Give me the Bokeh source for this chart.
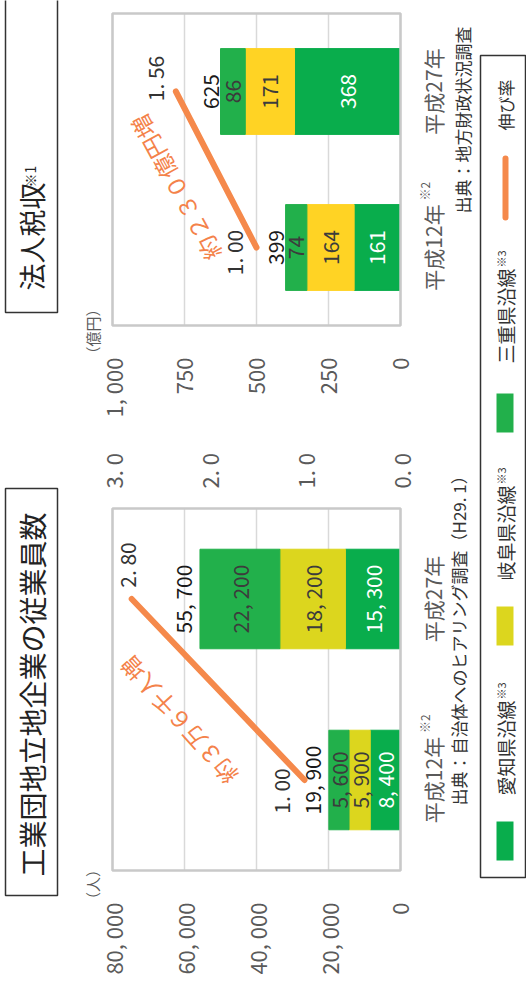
import math
from bokeh.plotting import figure
from bokeh.models import Range1d, ColumnDataSource, Label, BoxAnnotation
from bokeh.embed import file_html
from bokeh.resources import INLINE
from bokeh.core.properties import value

FONT = "Noto Sans CJK JP"
ORANGE = "#F5894B"
ORANGE_TXT = "#F4824A"
C_AICHI = "#09AD4C"
C_MIE = "#22B04B"
C_GIFU_EMP = "#DCD61E"
C_GIFU_TAX = "#FFD324"
TXT_DARK = "#3c3c3c"
AX_GREY = "#5a5a5a"

# ---------------- data ----------------
years = ["平成12年", "平成27年"]
year_notes = ["※2", ""]

emp_aichi = [8400, 15300]
emp_gifu = [5900, 18200]
emp_mie = [5600, 22200]
emp_total = [19900, 55700]
emp_growth = [1.00, 2.80]

tax_aichi = [161, 368]
tax_gifu = [164, 171]
tax_mie = [74, 86]
tax_total = [399, 625]
tax_growth = [1.00, 1.56]

emp_ticks = [0, 20000, 40000, 60000, 80000]
emp_tick_labels = ["0", "20, 000", "40, 000", "60, 000", "80, 000"]
tax_ticks = [0, 250, 500, 750, 1000]
tax_tick_labels = ["0", "250", "500", "750", "1, 000"]
growth_ticks = [0, 1, 2, 3]
growth_tick_labels = ["0. 0", "1. 0", "2. 0", "3. 0"]

series_names = ["愛知県沿線", "岐阜県沿線", "三重県沿線"]
series_note = "※3"
line_name = "伸び率"

emp_title = "工業団地立地企業の従業員数"
tax_title = "法人税収"
tax_title_note = "※1"
emp_source = "出典：自治体へのヒアリング調査（H29. 1）"
tax_source = "出典：地方財政状況調査"
emp_unit = "（人）"
tax_unit = "（億円）"
emp_note = "約３万６千人増"
tax_note = "約２３０億円増"


def fmt_int(v):
    return f"{v:,}".replace(",", ", ")


def fmt_g(v):
    return f"{v:.2f}".replace(".", ". ")


# ---------------- layout (page pixels) ----------------
W, H = 526, 989
X_ZERO, X_MAX = 400, 112          # page x of value 0 / axis maximum
PLOT_W = X_ZERO - X_MAX


def x_range_for(vmax):
    per_px = vmax / PLOT_W
    return Range1d(start=X_ZERO * per_px, end=(X_ZERO - W) * per_px)


def y_range_for(y_first, pitch):
    return Range1d(start=(y_first - H) / pitch, end=y_first / pitch)


p = figure(width=W, height=H, x_range=x_range_for(80000), y_range=y_range_for(779.5, 181),
           min_border=0, x_axis_location=None, y_axis_location=None,
           toolbar_location=None, output_backend="svg", outline_line_color=None,
           background_fill_color="white", border_fill_color="white")
p.grid.visible = False
p.extra_x_ranges = {"tax": x_range_for(1000), "ge": x_range_for(3.0), "gt": x_range_for(2.0)}
p.extra_y_ranges = {"tax": y_range_for(247, 156)}

ypos = list(range(len(years)))
y_lo, y_hi = ypos[0] - 0.5, ypos[-1] + 0.5
ROT = math.pi / 2


def txt(**kw):
    kw.setdefault("text_font", value(FONT))
    kw.setdefault("angle", ROT)
    return p.text(**kw)


def draw_chart(xr, yr, gr, aichi, gifu, mie, total, growth, ticks, tick_labels,
               gifu_color, g_off_x, g_off_y):
    rn = dict(x_range_name=xr, y_range_name=yr)
    n = len(ticks)
    # grid lines inside box
    p.segment(x0=ticks, x1=ticks, y0=[y_lo] * n, y1=[y_hi] * n,
              line_color="#d9d9d9", line_width=1.5, **rn)
    # stacked bars
    src = ColumnDataSource(dict(y=ypos, aichi=aichi, gifu=gifu, mie=mie))
    p.hbar_stack(["aichi", "gifu", "mie"], y="y", height=0.55,
                 color=[C_AICHI, gifu_color, C_MIE], source=src, **rn)
    # plot box
    p.quad(left=[0], right=[ticks[-1]], bottom=[y_lo], top=[y_hi], fill_color=None,
           line_color="#c9c9c9", line_width=2.5, **rn)
    # value tick labels
    txt(x=ticks, y=[y_lo] * n, text=tick_labels, y_offset=32, text_align="right",
        text_baseline="middle", text_color=AX_GREY, text_font_size="22px", **rn)
    # category labels
    txt(x=[0] * len(years), y=ypos, text=years, x_offset=17, text_align="center",
        text_baseline="top", text_color=AX_GREY, text_font_size="21px", **rn)
    txt(x=[0] * len(years), y=ypos, text=year_notes, x_offset=15, y_offset=-47,
        text_align="left", text_baseline="top", text_color=AX_GREY, text_font_size="12px", **rn)
    # segment labels
    seg_x, seg_y, seg_t, seg_c = [], [], [], []
    for i in ypos:
        left = 0
        for vals, tc in zip([aichi, gifu, mie], ["white", TXT_DARK, TXT_DARK]):
            v = vals[i]
            seg_x.append(left + v / 2)
            seg_y.append(i)
            seg_t.append(fmt_int(v))
            seg_c.append(tc)
            left += v
    txt(x=seg_x, y=seg_y, text=seg_t, text_color=seg_c, text_align="center",
        text_baseline="middle", text_font_size="21px", **rn)
    # totals
    txt(x=total, y=ypos, text=[fmt_int(v) for v in total], text_color="#1a1a1a",
        text_align="center", text_baseline="bottom", x_offset=-2, text_font_size="21px", **rn)
    # growth line + labels
    p.line(x=growth, y=ypos, x_range_name=gr, y_range_name=yr,
           line_color=ORANGE, line_width=6, line_cap="round")
    txt(x=growth, y=ypos, x_range_name=gr, y_range_name=yr, text=[fmt_g(g) for g in growth],
        x_offset=g_off_x, y_offset=g_off_y, text_color="#333333",
        text_align="center", text_baseline="middle", text_font_size="21px")


draw_chart("tax", "tax", "gt", tax_aichi, tax_gifu, tax_mie, tax_total, tax_growth,
           tax_ticks, tax_tick_labels, C_GIFU_TAX, [-23, -21], [5, -13])
draw_chart("default", "default", "ge", emp_aichi, emp_gifu, emp_mie, emp_total, emp_growth,
           emp_ticks, emp_tick_labels, C_GIFU_EMP, [-24, -5], [11, -34])

# secondary (growth-rate) axis labels of the employee chart
txt(x=growth_ticks, y=[y_hi] * len(growth_ticks), x_range_name="ge",
    text=growth_tick_labels, y_offset=-20, text_align="left", text_baseline="middle",
    text_color=AX_GREY, text_font_size="22px")


# ---------------- free texts / boxes (screen px) ----------------
def label(X, Y, text, size, color, angle=ROT, align="center", baseline="middle"):
    p.add_layout(Label(x=X, y=H - Y, x_units="screen", y_units="screen", text=text,
                       angle=angle, text_align=align, text_baseline=baseline,
                       text_font=FONT, text_font_size=size, text_color=color))


def box(X0, Y0, X1, Y1, fill=None, line="#333333", lw=1.5, radius=0):
    p.add_layout(BoxAnnotation(left=X0, right=X1, top=H - Y0, bottom=H - Y1,
                               left_units="screen", right_units="screen",
                               top_units="screen", bottom_units="screen",
                               fill_color=fill, fill_alpha=1.0,
                               line_color=line, line_alpha=1.0, line_width=lw,
                               line_dash="solid", border_radius=radius))


# titles
box(5, 488, 57, 895)
label(31, 694, emp_title, "28px", "#222222")
box(5, -5, 57, 312)
label(31, 290, tax_title, "27px", "#222222", align="left")
label(29, 176, tax_title_note, "14px", "#222222")

# sources, units, notes
label(458, 805, emp_source, "17px", "#333333", align="left")
label(462, 213, tax_source, "17px", "#333333", align="left")
label(92, 331, tax_unit, "15px", AX_GREY)
label(92, 884, emp_unit, "15px", AX_GREY)
label(178, 720, emp_note, "23px", ORANGE_TXT, angle=math.radians(132))
label(175, 187, tax_note, "23px", ORANGE_TXT, angle=math.radians(118.5))

# legend
box(480, 55, 525, 877)
box(502, 155, 508, 220, fill=ORANGE, line=None, radius=3)
label(505, 130, line_name, "17px", "#333333", align="left")
sw_colors = [C_AICHI, C_GIFU_EMP, C_MIE]
sw_top = [821, 606, 393]
txt_start = [795, 580, 363]
LFS = 19
for name, c, st, ts in zip(series_names, sw_colors, sw_top, txt_start):
    box(496, st, 513, st + 39, fill=c, line=None)
    label(505, ts, name, f"{LFS}px", "#333333", align="left")
    label(500, ts - len(name) * LFS - 1, series_note, "11px", "#333333", align="left")

open("out.html", "w").write(file_html(p, INLINE))
